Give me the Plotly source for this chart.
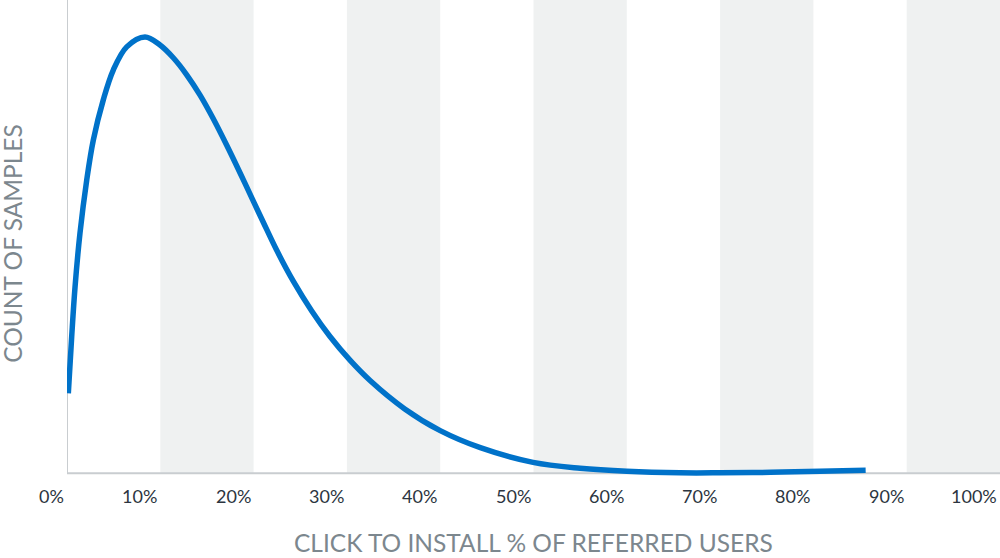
import plotly.graph_objects as go

# Data (x in %, y in relative count units)
x_pct = [0.14, 0.50, 0.86, 1.39, 2.11, 2.82, 3.89, 4.96, 6.40, 8.36, 9.97, 11.39,
         12.83, 14.26, 15.68, 17.12, 18.54, 19.97, 21.0, 22.48, 24.22, 26.23,
         28.19, 30.33, 32.48, 36.2, 40.0, 44.3, 49.95, 55.0, 60.0, 65.7, 70.0,
         75.4, 80.7, 85.6]
counts = [16.9, 28.8, 39.3, 50.7, 61.9, 70.4, 78.9, 85.2, 90.1, 92.2, 90.5, 87.8,
          84.2, 79.9, 74.9, 69.3, 63.5, 57.5, 53.2, 47.1, 40.7, 34.3,
          28.9, 23.9, 19.6, 13.6, 9.0, 5.4, 2.3, 1.06, 0.42, 0.1, 0.1,
          0.2, 0.42, 0.63]

tick_vals = [0, 10, 20, 30, 40, 50, 60, 70, 80, 90, 100]
tick_text = ["0%", "10%", "20%", "30%", "40%", "50%", "60%", "70%", "80%", "90%", "100%"]
band_starts = [10, 30, 50, 70, 90]
band_width = 10

x_title = "CLICK TO INSTALL % OF REFERRED USERS"
y_title = "COUNT OF SAMPLES"

FONT = "Lato, 'Open Sans', sans-serif"
LINE_BLUE = "#0072c9"
BAND = "#eff1f1"
AXIS = "#c9cdd0"
TITLE_GREY = "#7c878e"
TICK_DARK = "#2c3540"

fig = go.Figure()
fig.add_trace(go.Scatter(
    x=x_pct, y=counts, mode="lines",
    line=dict(color=LINE_BLUE, width=5.5, shape="spline", smoothing=1.0),
    hoverinfo="skip", showlegend=False,
))

shapes = []
for b in band_starts:
    shapes.append(dict(type="rect", xref="x", yref="y", x0=b, x1=b + band_width,
                       y0=0, y1=100, fillcolor=BAND, line=dict(width=0), layer="below"))
# axis lines
shapes.append(dict(type="line", xref="x", yref="y", x0=0, x1=100, y0=0, y1=0,
                   line=dict(color=AXIS, width=2), layer="below"))
shapes.append(dict(type="line", xref="x", yref="y", x0=0, x1=0, y0=0, y1=100,
                   line=dict(color=AXIS, width=2), layer="below"))

annotations = []
for v, t in zip(tick_vals, tick_text):
    annotations.append(dict(x=v, y=0, xref="x", yref="y", text=t, showarrow=False,
                            xanchor="right", yanchor="middle", xshift=-1, yshift=-23,
                            font=dict(family=FONT, size=18, color=TICK_DARK)))
annotations.append(dict(x=0.5, xref="paper", y=0, yref="paper", text=x_title,
                        showarrow=False, xanchor="center", yanchor="middle",
                        yshift=-64, font=dict(family=FONT, size=24.5, color=TITLE_GREY)))
annotations.append(dict(x=0, xref="paper", y=0.49, yref="paper", text=y_title,
                        showarrow=False, xanchor="center", yanchor="middle", textangle=-90,
                        xshift=-54, font=dict(family=FONT, size=24.5, color=TITLE_GREY)))

fig.update_layout(
    width=1000, height=558,
    margin=dict(l=67, r=0, t=0, b=80),
    paper_bgcolor="white", plot_bgcolor="white",
    xaxis=dict(range=[0, 100], showgrid=False, zeroline=False, showline=False,
               showticklabels=False, ticks="", fixedrange=True),
    yaxis=dict(range=[-1, 100], showgrid=False, zeroline=False, showline=False,
               showticklabels=False, ticks="", fixedrange=True),
    shapes=shapes, annotations=annotations,
    showlegend=False,
)

fig.write_html("out.html", config={"displayModeBar": False},
               post_script="document.body.style.margin='0px';document.body.style.overflow='hidden';")
